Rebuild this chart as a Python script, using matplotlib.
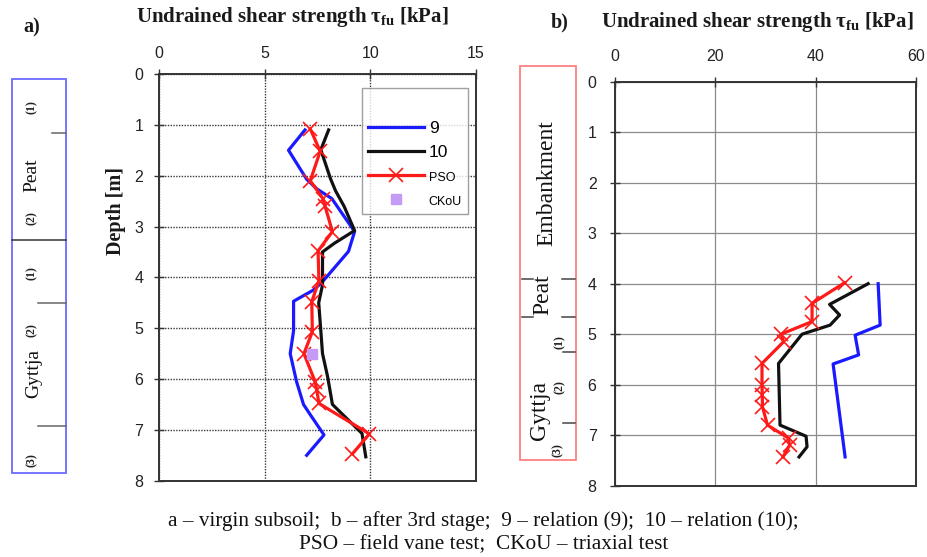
import matplotlib
matplotlib.use("Agg")
import matplotlib.pyplot as plt
from matplotlib.patches import Rectangle

plt.rcParams['mathtext.fontset'] = 'custom'
plt.rcParams['mathtext.rm'] = 'Liberation Serif'
plt.rcParams['mathtext.bf'] = 'Liberation Serif:bold'
plt.rcParams['mathtext.it'] = 'Liberation Serif:italic'

# ---------------- data: panel a (virgin subsoil) ----------------
a_rel9_depth = [1.1, 1.5, 2.07, 2.26, 2.45, 3.1, 3.49, 4.1, 4.25, 4.47, 5.05, 5.5, 6.05, 6.5, 6.67, 7.1, 7.5]
a_rel9_tau = [6.9, 6.12, 6.98, 7.46, 8.17, 9.25, 8.96, 7.7, 7.3, 6.36, 6.36, 6.2, 6.5, 6.83, 7.1, 7.8, 6.98]

a_rel10_depth = [1.1, 1.49, 2.05, 2.3, 2.6, 3.08, 3.33, 3.5, 4.15, 4.5, 5.05, 5.5, 5.95, 6.5, 7.07, 7.53]
a_rel10_tau = [8.02, 7.65, 8.1, 8.35, 8.75, 9.25, 8.29, 7.73, 7.73, 7.55, 7.65, 7.73, 7.97, 8.2, 9.6, 9.78]

a_pso_depth = [1.08, 1.52, 2.1, 2.45, 2.6, 3.1, 3.48, 4.07, 4.48, 5.07, 5.5, 6.05, 6.22, 6.48, 7.08, 7.47]
a_pso_tau = [7.15, 7.62, 7.15, 7.75, 7.85, 8.2, 7.52, 7.56, 7.22, 7.25, 6.85, 7.38, 7.46, 7.56, 9.95, 9.15]

a_ckou_depth = [5.5]
a_ckou_tau = [7.22]

# ---------------- data: panel b (after 3rd stage) ----------------
b_rel9_depth = [4.0, 4.82, 5.02, 5.41, 5.59, 7.43]
b_rel9_tau = [52.5, 52.9, 47.9, 48.6, 43.5, 45.9]

b_rel10_depth = [4.0, 4.41, 4.62, 4.82, 5.0, 5.58, 6.8, 7.02, 7.23, 7.43]
b_rel10_tau = [50.5, 42.8, 44.8, 42.9, 37.3, 32.6, 32.9, 38.1, 38.3, 36.7]

b_pso_depth = [3.98, 4.39, 4.75, 5.0, 5.15, 5.58, 6.0, 6.2, 6.44, 6.8, 7.06, 7.2, 7.43]
b_pso_tau = [45.8, 39.3, 39.3, 33.1, 33.6, 29.3, 29.3, 29.35, 29.4, 30.4, 34.6, 34.8, 33.5]

a_xticks = [0, 5, 10, 15]
b_xticks = [0, 20, 40, 60]
depth_ticks = [0, 1, 2, 3, 4, 5, 6, 7, 8]

legend_labels = ["9", "10", "PSO", "CKoU"]
title_text = "Undrained shear strength τ$_{\\mathbf{fu}}$ [kPa]"
caption_line1 = "a – virgin subsoil;  b – after 3rd stage;  9 – relation (9);  10 – relation (10);"
caption_line2 = "PSO – field vane test;  CKoU – triaxial test"

# ---------------- figure ----------------
W, H = 927, 557
fig = plt.figure(figsize=(W / 100, H / 100), dpi=100)


def fx(px):
    return px / W


def fy(py):
    return 1 - py / H


BLUE = '#1a1aff'
BLACK = '#111111'
RED = '#ff1a1a'
PURPLE = '#c59cf5'


def style_axes(ax, xmax, xticks, grid_style):
    ax.set_xlim(0, xmax)
    ax.set_ylim(8, 0)
    ax.set_xticks(xticks)
    ax.set_yticks(depth_ticks)
    ax.xaxis.tick_top()
    ax.tick_params(axis='both', direction='inout', length=7, width=1.0,
                   colors='#333333', labelcolor='#222222', labelsize=11.5)
    for lab in ax.get_xticklabels() + ax.get_yticklabels():
        lab.set_fontfamily('Liberation Sans')
    for s in ax.spines.values():
        s.set_linewidth(1.4)
        s.set_color('#333333')
    ax.grid(True, **grid_style)
    ax.set_axisbelow(True)


# Panel a
axa = fig.add_axes([fx(159.3), fy(480.7), fx(476) - fx(159.3), fy(74) - fy(480.7)])
style_axes(axa, 15, a_xticks, dict(color='#3a3a3a', linestyle=(0, (1, 1)), linewidth=1.0))
axa.tick_params(axis='x', pad=6)
axa.tick_params(axis='y', pad=8)
axa.plot(a_rel9_tau, a_rel9_depth, color=BLUE, lw=2.3, label=legend_labels[0])
axa.plot(a_rel10_tau, a_rel10_depth, color=BLACK, lw=2.3, label=legend_labels[1])
axa.plot(a_pso_tau, a_pso_depth, color=RED, lw=2.3, marker='x', ms=9.5, mew=1.2,
         label=legend_labels[2])
axa.plot(a_ckou_tau, a_ckou_depth, linestyle='none', marker='s', ms=7, color=PURPLE,
         label=legend_labels[3])

leg = axa.legend(loc='upper right', bbox_to_anchor=(0.975, 0.965), frameon=True,
                 fancybox=False, edgecolor='#888888', handlelength=3.2,
                 handletextpad=0.3, borderpad=0.35, labelspacing=0.5,
                 borderaxespad=0.0, title=' ', title_fontproperties={'size': 12},
                 prop={'family': 'Liberation Sans', 'size': 12.5})
leg.get_frame().set_linewidth(1.0)
texts = leg.get_texts()
texts[2].set_fontsize(9)
texts[3].set_fontsize(9)

# Panel b
axb = fig.add_axes([fx(615.3), fy(485.7), fx(915.7) - fx(615.3), fy(81.7) - fy(485.7)])
style_axes(axb, 60, b_xticks, dict(color='#8a8a8a', linestyle='-', linewidth=0.9))
axb.tick_params(axis='y', pad=10)
axb.tick_params(axis='x', pad=9)
axb.plot(b_rel9_tau, b_rel9_depth, color=BLUE, lw=2.3)
axb.plot(b_rel10_tau, b_rel10_depth, color=BLACK, lw=2.3)
axb.plot(b_pso_tau, b_pso_depth, color=RED, lw=2.3, marker='x', ms=9.5, mew=1.2)

# ---------------- overlay for texts and soil columns ----------------
ov = fig.add_axes([0, 0, 1, 1], zorder=-1)
ov.set_xlim(0, W)
ov.set_ylim(H, 0)
ov.axis('off')

serif = 'Liberation Serif'
ov.text(292.5, 17, title_text, ha='center', va='center', family=serif,
        weight='bold', fontsize=15, color='#1a1a1a')
ov.text(757, 21.5, title_text, ha='center', va='center', family=serif,
        weight='bold', fontsize=15, color='#1a1a1a')
ov.text(32, 27, "a)", ha='center', va='center', family=serif, weight='bold',
        fontsize=14.5, color='#1a1a1a')
ov.text(560, 22, "b)", ha='center', va='center', family=serif, weight='bold',
        fontsize=14.5, color='#1a1a1a')
ov.text(116, 211, "Depth [m]", ha='center', va='center', rotation=90,
        family=serif, weight='bold', fontsize=14.5, color='#1a1a1a')

ov.text(483, 521.5, caption_line1, ha='center', va='center', family=serif,
        fontsize=15.3, color='#111111')
ov.text(484, 545, caption_line2, ha='center', va='center', family=serif,
        fontsize=15.3, color='#111111')

# soil column a
ov.add_patch(Rectangle((11.7, 79.3), 54, 394, fill=False, edgecolor='#6b6bff', lw=1.3))
ov.plot([11.7, 65.7], [240, 240], color='#333333', lw=1.1)
for yy, x0 in [(132.7, 51.7), (303.3, 38), (426, 38)]:
    ov.plot([x0, 65.7], [yy, yy], color='#666666', lw=1.1)
small = dict(ha='center', va='center', rotation=90, family=serif, weight='bold',
             fontsize=8.5, color='#222222')
big_a = dict(ha='center', va='center', rotation=90, family=serif, fontsize=14,
             color='#111111')
ov.text(32, 106.7, "(1)", **small)
ov.text(32, 175, "Peat", **big_a)
ov.text(32, 218, "(2)", **small)
ov.text(32, 273, "(1)", **small)
ov.text(32, 330, "(2)", **small)
ov.text(34, 373, "Gyttja", **big_a)
ov.text(32, 460, "(3)", **small)

# soil column b
ov.add_patch(Rectangle((520, 66), 55.7, 394, fill=False, edgecolor='#ff8080', lw=1.3))
for yy in [279, 317.3]:
    ov.plot([521.7, 533], [yy, yy], color='#444444', lw=1.1)
    ov.plot([561.7, 575], [yy, yy], color='#444444', lw=1.1)
for yy in [351.7, 423]:
    ov.plot([563, 575], [yy, yy], color='#444444', lw=1.1)
big_b = dict(ha='center', va='center', rotation=90, family=serif, fontsize=17,
             color='#111111')
ov.text(547, 183, "Embankment", **big_b)
ov.text(543, 295, "Peat", **big_b)
ov.text(540, 410, "Gyttja", **big_b)
ov.text(560, 341.7, "(1)", **small)
ov.text(560, 386.7, "(2)", **small)
ov.text(558, 450, "(3)", **small)

fig.savefig("out.png", dpi=100)
